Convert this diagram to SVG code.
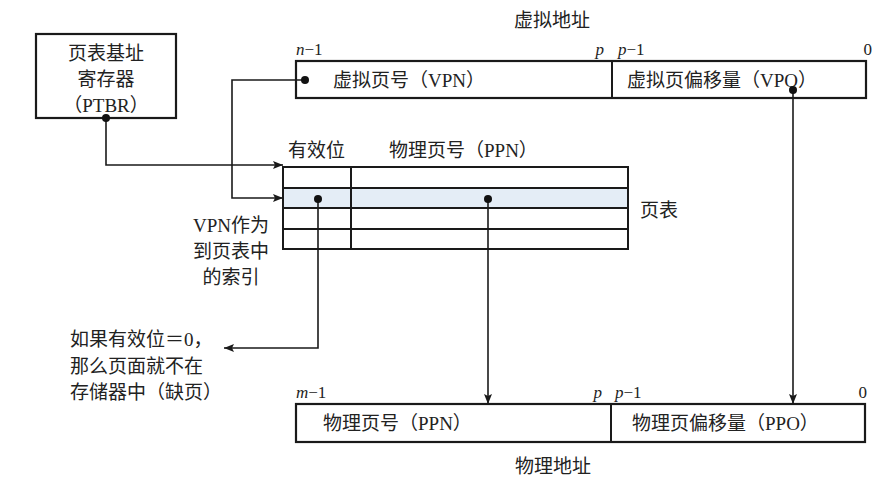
<svg xmlns="http://www.w3.org/2000/svg" width="886" height="490" viewBox="0 0 886 490">
  <defs>
    <marker id="arrow" viewBox="0 0 10 8" refX="10" refY="4" markerWidth="10" markerHeight="8" markerUnits="userSpaceOnUse" orient="auto">
      <path d="M0,0 L10,4 L0,8 L2,4 z" fill="#1a1a1a"/>
    </marker>
  </defs>
  <style>
    .box { fill: #ffffff; stroke: #1a1a1a; stroke-width: 2.2; }
    .grid { stroke: #1a1a1a; stroke-width: 2; fill: none; }
    .t { font-family: "Liberation Serif", "Noto Sans CJK SC", serif; font-size: 19px; fill: #222222; }
    .n { font-family: "Liberation Serif", "Noto Sans CJK SC", serif; font-size: 17px; fill: #222222; }
    .i { font-style: italic; }
    .c { text-anchor: middle; }
    .e { text-anchor: end; }
    .wire { fill: none; stroke: #1a1a1a; stroke-width: 1.6; }
    .dot { fill: #111111; }
  </style>
  <rect width="886" height="490" fill="#ffffff"/>

  <g id="ptbr">
    <rect class="box" x="36" y="34" width="140" height="84"/>
    <text class="t c" x="106" y="60">页表基址</text>
    <text class="t c" x="106" y="86">寄存器</text>
    <text class="t c" x="106" y="112">（PTBR）</text>
  </g>

  <g id="virtual-address">
    <text class="t c" x="552" y="27">虚拟地址</text>
    <rect class="box" x="296" y="61" width="570" height="37"/>
    <line class="grid" x1="612" y1="61" x2="612" y2="98"/>
    <text class="t" x="333" y="87">虚拟页号（VPN）</text>
    <text class="t" x="627" y="87">虚拟页偏移量（VPO）</text>
    <text class="n" x="296" y="55"><tspan class="i">n</tspan>−1</text>
    <text class="n i e" x="604" y="55">p</text>
    <text class="n" x="618" y="55"><tspan class="i">p</tspan>−1</text>
    <text class="n e" x="872" y="55">0</text>
  </g>

  <g id="page-table">
    <text class="t" x="288" y="157">有效位</text>
    <text class="t" x="389" y="157">物理页号（PPN）</text>
    <rect x="283" y="188" width="345" height="20" fill="#e4edf6"/>
    <rect class="grid" x="283" y="167" width="345" height="82"/>
    <line class="grid" x1="283" y1="188" x2="628" y2="188"/>
    <line class="grid" x1="283" y1="208" x2="628" y2="208"/>
    <line class="grid" x1="283" y1="229" x2="628" y2="229"/>
    <line class="grid" x1="351" y1="167" x2="351" y2="249"/>
    <text class="t" x="640" y="217">页表</text>
  </g>

  <g id="vpn-index-note">
    <text class="t c" x="231" y="232">VPN作为</text>
    <text class="t c" x="231" y="258">到页表中</text>
    <text class="t c" x="231" y="284">的索引</text>
  </g>

  <g id="page-fault-note">
    <text class="t" x="70" y="346">如果有效位＝0，</text>
    <text class="t" x="70" y="373">那么页面就不在</text>
    <text class="t" x="70" y="399">存储器中（缺页）</text>
  </g>

  <g id="physical-address">
    <rect class="box" x="296" y="404" width="569" height="38"/>
    <line class="grid" x1="611" y1="404" x2="611" y2="442"/>
    <text class="t" x="323" y="430">物理页号（PPN）</text>
    <text class="t" x="632" y="430">物理页偏移量（PPO）</text>
    <text class="n" x="296" y="398"><tspan class="i">m</tspan>−1</text>
    <text class="n i e" x="602" y="398">p</text>
    <text class="n" x="615" y="398"><tspan class="i">p</tspan>−1</text>
    <text class="n e" x="867" y="398">0</text>
    <text class="t c" x="553" y="473">物理地址</text>
  </g>

  <g id="connectors">
    <polyline class="wire" points="106,118 106,165 283,165" marker-end="url(#arrow)"/>
    <polyline class="wire" points="305,80 232,80 232,198 283,198" marker-end="url(#arrow)"/>
    <polyline class="wire" points="318,199 318,348 224,348" marker-end="url(#arrow)"/>
    <line class="wire" x1="488" y1="199" x2="488" y2="404" marker-end="url(#arrow)"/>
    <line class="wire" x1="793" y1="90" x2="793" y2="404" marker-end="url(#arrow)"/>
    <circle class="dot" cx="106" cy="118" r="4"/>
    <circle class="dot" cx="305" cy="80" r="4"/>
    <circle class="dot" cx="318" cy="199" r="4"/>
    <circle class="dot" cx="488" cy="199" r="4"/>
    <circle class="dot" cx="793" cy="90" r="4"/>
  </g>
</svg>
